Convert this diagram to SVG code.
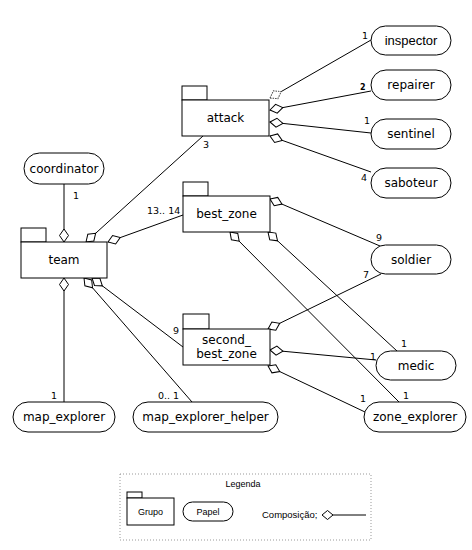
<svg xmlns="http://www.w3.org/2000/svg" width="472" height="550" viewBox="0 0 472 550">
<style>
.box{fill:#fff;stroke:#000;stroke-width:1}
.role{fill:#fff;stroke:#000;stroke-width:1}
.t{font-family:"DejaVu Sans",sans-serif;font-size:12px;fill:#000;text-anchor:middle}
.n{font-family:"DejaVu Sans",sans-serif;font-size:9.5px;fill:#000}
.l{font-family:"Liberation Sans",Arial,sans-serif;font-size:9px;fill:#000}
.c{fill:none;stroke:#000;stroke-width:1;marker-start:url(#dia)}
.cd{fill:none;stroke:#000;stroke-width:1;marker-start:url(#diad)}
</style>
<defs>
<marker id="dia" markerUnits="userSpaceOnUse" markerWidth="16" markerHeight="12" refX="0" refY="0" orient="auto" viewBox="-1 -6 16 12" overflow="visible">
<path d="M0,0 L6.5,-4.5 L13,0 L6.5,4.5 Z" fill="#fff" stroke="#000" stroke-width="1"/>
</marker>
<marker id="diad" markerUnits="userSpaceOnUse" markerWidth="16" markerHeight="12" refX="0" refY="0" orient="auto" viewBox="-1 -6 16 12" overflow="visible">
<path d="M0,0 L6.5,-4.5 L13,0 L6.5,4.5 Z" fill="#fff" stroke="#444" stroke-width="1" stroke-dasharray="1.5,1"/>
</marker>
</defs>
<g id="connectors">
<path class="cd" d="M270,98 L371,40"/>
<path class="c" d="M270,110 L371,91"/>
<path class="c" d="M270,122 L371,133"/>
<path class="c" d="M270,136 L371,172"/>
<path class="c" d="M64,242 L64,184"/>
<path class="c" d="M86,242 L203,136"/>
<path class="c" d="M108,242 L183,215"/>
<path class="c" d="M270,199 L380,246"/>
<path class="c" d="M230,232 L399,402"/>
<path class="c" d="M268,232 L397,351"/>
<path class="c" d="M268,329 L381,274"/>
<path class="c" d="M270,350 L376,360"/>
<path class="c" d="M268,366 L365,412"/>
<path class="c" d="M64,278 L64,402"/>
<path class="c" d="M84,278 L192,402"/>
<path class="c" d="M92,278 L183,347"/>
<text class="n" x="362" y="39">1</text>
<text class="n" x="360" y="90" style="font-size:8px;font-weight:bold">2</text>
<text class="n" x="364" y="124">1</text>
<text class="n" x="361" y="181">4</text>
<text class="n" x="73" y="199">1</text>
<text class="n" x="203" y="148">3</text>
<text class="n" x="147" y="214">13.. 14</text>
<text class="n" x="376" y="241">9</text>
<text class="n" x="363" y="278">7</text>
<text class="n" x="401" y="347">1</text>
<text class="n" x="403" y="399">1</text>
<text class="n" x="370" y="360">1</text>
<text class="n" x="360" y="402">1</text>
<text class="n" x="51" y="399">1</text>
<text class="n" x="158" y="399">0.. 1</text>
<text class="n" x="173" y="334">9</text>
</g>
<g id="attack">
<rect class="box" x="182" y="86" width="25" height="14"/>
<rect class="box" x="182" y="100" width="87" height="36"/>
<text class="t" x="225.5" y="122">attack</text>
</g>
<g id="best_zone">
<rect class="box" x="183" y="182" width="25" height="14"/>
<rect class="box" x="183" y="196" width="87" height="36"/>
<text class="t" x="226.5" y="218">best_zone</text>
</g>
<g id="second_best_zone">
<rect class="box" x="183" y="314" width="26" height="15"/>
<rect class="box" x="183" y="329" width="87" height="36"/>
<text class="t" x="226.5" y="344">second_</text>
<text class="t" x="226.5" y="358">best_zone</text>
</g>
<g id="team">
<rect class="box" x="21" y="228" width="25" height="14"/>
<rect class="box" x="21" y="242" width="86" height="36"/>
<text class="t" x="64" y="264">team</text>
</g>
<g id="inspector">
<rect class="role" x="371" y="26" width="80" height="29" rx="14.5"/>
<text class="t" x="411" y="45" style="font-family:'Liberation Sans',Arial,sans-serif;font-size:13px">inspector</text>
</g>
<g id="repairer">
<rect class="role" x="371" y="70" width="80" height="30" rx="15"/>
<text class="t" x="411" y="89">repairer</text>
</g>
<g id="sentinel">
<rect class="role" x="371" y="119" width="80" height="30" rx="15"/>
<text class="t" x="411" y="138">sentinel</text>
</g>
<g id="saboteur">
<rect class="role" x="371" y="168" width="80" height="30" rx="15"/>
<text class="t" x="411" y="187">saboteur</text>
</g>
<g id="soldier">
<rect class="role" x="371" y="245" width="80" height="29" rx="14.5"/>
<text class="t" x="411" y="264">soldier</text>
</g>
<g id="medic">
<rect class="role" x="376" y="351" width="80" height="29" rx="14.5"/>
<text class="t" x="416" y="370">medic</text>
</g>
<g id="zone_explorer">
<rect class="role" x="364" y="402" width="102" height="30" rx="15"/>
<text class="t" x="415" y="421">zone_explorer</text>
</g>
<g id="coordinator">
<rect class="role" x="24" y="153" width="80" height="31" rx="15.5"/>
<text class="t" x="64" y="173">coordinator</text>
</g>
<g id="map_explorer">
<rect class="role" x="13" y="402" width="102" height="30" rx="15"/>
<text class="t" x="64" y="421">map_explorer</text>
</g>
<g id="map_explorer_helper">
<rect class="role" x="133" y="402" width="145" height="30" rx="15"/>
<text class="t" x="205.5" y="421">map_explorer_helper</text>
</g>
<g id="legend">
<rect x="120" y="474" width="251" height="66" fill="none" stroke="#999" stroke-width="1" stroke-dasharray="1,2"/>
<text class="l" x="243" y="487" text-anchor="middle">Legenda</text>
<rect class="box" x="127" y="492" width="15" height="6"/>
<rect class="box" x="127" y="498" width="47" height="27"/>
<text class="l" x="150.5" y="515" text-anchor="middle">Grupo</text>
<rect class="role" x="183" y="502" width="50" height="19" rx="9.5"/>
<text class="l" x="208" y="515" text-anchor="middle">Papel</text>
<text class="l" x="262" y="518" style="font-size:9.5px">Composição;</text>
<polygon points="322,515 327.5,510.5 333,515 327.5,519.5" fill="#fff" stroke="#000"/>
<line x1="333" y1="515" x2="366" y2="515" stroke="#000"/>
</g>
</svg>
